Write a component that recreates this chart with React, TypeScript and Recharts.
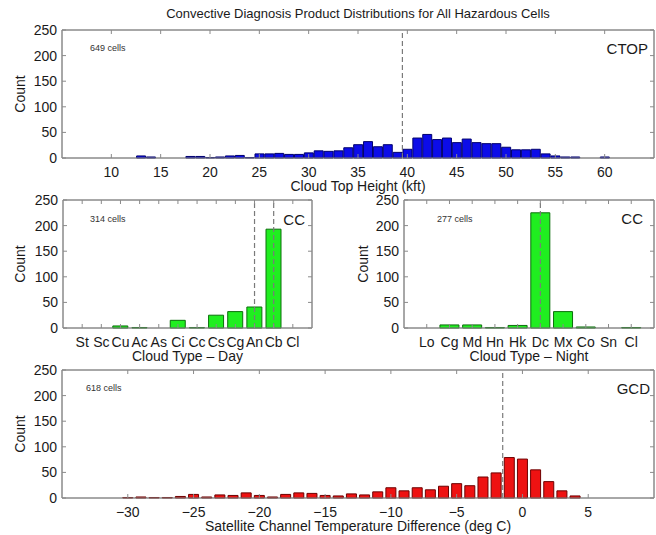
import { Bar, BarChart, CartesianGrid, Line, ReferenceLine, XAxis, YAxis } from "recharts";

// cloud top height bins (kft) and counts
const ctopBins = [13, 14, 18, 19, 20, 21, 22, 23, 24, 25, 26, 27, 28, 29, 30, 31, 32, 33, 34, 35, 36, 37, 38, 39, 40, 41, 42, 43, 44, 45, 46, 47, 48, 49, 50, 51, 52, 53, 54, 55, 56, 57, 60];
const ctopCounts = [4, 2, 3, 3, 1, 2, 4, 5, 1, 8, 8, 9, 7, 7, 10, 14, 13, 14, 20, 26, 32, 22, 26, 11, 17, 39, 46, 36, 39, 30, 37, 30, 28, 28, 21, 16, 16, 17, 8, 4, 2, 2, 2];
const ctopTicks = [10, 15, 20, 25, 30, 35, 40, 45, 50, 55, 60];

// cloud classification, day and night
const dayTypes = ["St", "Sc", "Cu", "Ac", "As", "Ci", "Cc", "Cs", "Cg", "An", "Cb", "Cl"];
const dayCounts = [0, 0, 4, 1, 0, 15, 1, 25, 32, 41, 193, 0];
const nightTypes = ["Lo", "Cg", "Md", "Hn", "Hk", "Dc", "Mx", "Co", "Sn", "Cl"];
const nightCounts = [0, 6, 6, 1, 5, 225, 32, 2, 0, 1];

// satellite channel temperature difference (deg C)
const gcdBins = [-30, -29, -28, -27, -26, -25, -24, -23, -22, -21, -20, -19, -18, -17, -16, -15, -14, -13, -12, -11, -10, -9, -8, -7, -6, -5, -4, -3, -2, -1, 0, 1, 2, 3, 4];
const gcdCounts = [1, 2, 1, 1, 3, 7, 2, 6, 5, 10, 5, 2, 7, 10, 9, 5, 4, 8, 6, 12, 20, 14, 20, 16, 23, 28, 24, 41, 49, 79, 76, 55, 32, 14, 4];
const gcdTicks = [-30, -25, -20, -15, -10, -5, 0, 5];

const countTicks = [0, 50, 100, 150, 200, 250];

const AXIS = "#8a8a8a";
const INK = "#1a1a1a";

type Row = { x: number | string; count: number };

type PanelProps = {
  data: Row[];
  left: number;
  top: number;
  width: number;
  yWidth: number;
  right: number;
  numeric: boolean;
  domain?: [number, number];
  ticks?: number[];
  pad?: number;
  xLabel: string;
  fill: string;
  stroke: string;
  gap: string;
  medians: (number | string)[];
  countOffset: number;
};

type Box = { offset: { top: number; left: number; width: number; height: number } };

const fmtNum = (v: number) => (v < 0 ? "\u2212" + Math.abs(v) : String(v));
const blank = () => "";
// frame edges of the plot area
const frameRows = ({ offset }: Box) => [offset.top, offset.top + offset.height];
const frameCols = ({ offset }: Box) => [offset.left, offset.left + offset.width];

function Panel(p: PanelProps) {
  const xCommon = {
    dataKey: "x",
    type: p.numeric ? ("number" as const) : ("category" as const),
    domain: p.domain,
    ticks: p.ticks,
    interval: 0 as const,
    stroke: AXIS,
    tickSize: -4,
    allowDataOverflow: true,
    padding: p.pad ? { left: p.pad, right: p.pad } : undefined,
  };
  return (
    <div style={{ position: "absolute", left: p.left, top: p.top }}>
      <BarChart
        width={p.width}
        height={195}
        data={p.data}
        margin={{ top: 28, right: p.right - 2, bottom: 0, left: 0 }}
        barCategoryGap={p.gap}
      >
        <CartesianGrid
          xAxisId="b"
          yAxisId="l"
          stroke={AXIS}
          horizontalCoordinatesGenerator={frameRows as any}
          verticalCoordinatesGenerator={frameCols as any}
        />
        <XAxis
          {...xCommon}
          xAxisId="b"
          height={37}
          tickMargin={13}
          tick={{ fill: INK, fontSize: 14 }}
          tickFormatter={p.numeric ? fmtNum : undefined}
          label={{ value: p.xLabel, position: "insideBottom", offset: 4, fill: INK, fontSize: 14 }}
        />
        <XAxis {...xCommon} xAxisId="t" orientation="top" height={2} tickFormatter={blank} tick={{ fontSize: 1 }} />
        <YAxis
          yAxisId="l"
          type="number"
          domain={[0, 250]}
          ticks={countTicks}
          width={p.yWidth}
          stroke={AXIS}
          tickSize={-4}
          tickMargin={9}
          tick={{ fill: INK, fontSize: 14 }}
          label={{
            value: "Count",
            angle: -90,
            position: "insideLeft",
            offset: p.countOffset,
            fill: INK,
            fontSize: 14,
            style: { textAnchor: "middle" },
          }}
        />
        <YAxis
          yAxisId="r"
          orientation="right"
          type="number"
          domain={[0, 250]}
          ticks={countTicks}
          width={2}
          stroke={AXIS}
          tickSize={-4}
          tickFormatter={blank}
          tick={{ fontSize: 1 }}
        />
        <Bar
          xAxisId="b"
          yAxisId="l"
          dataKey="count"
          fill={p.fill}
          stroke={p.stroke}
          strokeWidth={1}
          isAnimationActive={false}
        />
        {/* invisible series so the top and right frame axes get a scale */}
        <Line
          xAxisId="t"
          yAxisId="r"
          dataKey="count"
          stroke="none"
          dot={false}
          activeDot={false}
          legendType="none"
          isAnimationActive={false}
        />
        {p.medians.map((m) => (
          <ReferenceLine
            key={String(m)}
            xAxisId="b"
            yAxisId="l"
            x={m}
            stroke="#7a7a7a"
            strokeWidth={1.2}
            strokeDasharray="5 3"
          />
        ))}
      </BarChart>
    </div>
  );
}

const note = (text: string, left: number, top: number) => (
  <div style={{ position: "absolute", left, top, fontSize: 9, lineHeight: 1, color: "#333" }}>{text}</div>
);

const tag = (text: string, right: number, top: number) => (
  <div style={{ position: "absolute", right, top, fontSize: 15, lineHeight: 1, color: INK }}>{text}</div>
);

export default function App() {
  const ctop = ctopBins.map((x, i) => ({ x, count: ctopCounts[i] }));
  const day = dayTypes.map((x, i) => ({ x, count: dayCounts[i] }));
  const night = nightTypes.map((x, i) => ({ x, count: nightCounts[i] }));
  const gcd = gcdBins.map((x, i) => ({ x, count: gcdCounts[i] }));

  return (
    <div
      style={{
        position: "absolute",
        left: 0,
        top: 0,
        width: 656,
        height: 535,
        background: "#fff",
        fontFamily: "'Liberation Sans', Arial, Helvetica, sans-serif",
      }}
    >
      <Panel
        data={ctop}
        left={0}
        top={0}
        width={656}
        yWidth={62}
        right={2}
        numeric
        domain={[5, 65]}
        ticks={ctopTicks}
        xLabel="Cloud Top Height (kft)"
        fill="#0c0ce8"
        stroke="#00006e"
        gap="6%"
        medians={[39.5]}
        countOffset={20}
      />
      <Panel
        data={day}
        left={0}
        top={170}
        width={340}
        yWidth={63}
        right={28}
        numeric={false}
        pad={9.6}
        xLabel="Cloud Type – Day"
        fill="#20ee20"
        stroke="#0b6e0b"
        gap="10%"
        medians={["An", "Cb"]}
        countOffset={20}
      />
      <Panel
        data={night}
        left={340}
        top={170}
        width={316}
        yWidth={64}
        right={2}
        numeric={false}
        pad={11.4}
        xLabel="Cloud Type – Night"
        fill="#20ee20"
        stroke="#0b6e0b"
        gap="8%"
        medians={["Dc"]}
        countOffset={23}
      />
      <Panel
        data={gcd}
        left={0}
        top={340}
        width={656}
        yWidth={62}
        right={2}
        numeric
        domain={[-35, 10]}
        ticks={gcdTicks}
        xLabel="Satellite Channel Temperature Difference (deg C)"
        fill="#ee1212"
        stroke="#6e0000"
        gap="12%"
        medians={[-1.5]}
        countOffset={20}
      />

      <div
        style={{
          position: "absolute",
          left: 62,
          top: 7,
          width: 592,
          textAlign: "center",
          fontSize: 13,
          lineHeight: 1,
          color: INK,
        }}
      >
        Convective Diagnosis Product Distributions for All Hazardous Cells
      </div>

      {note("649 cells", 90, 44)}
      {note("314 cells", 90, 215)}
      {note("277 cells", 437, 215)}
      {note("618 cells", 86, 384)}

      {tag("CTOP", 8, 41)}
      {tag("CC", 351, 212)}
      {tag("CC", 13, 211)}
      {tag("GCD", 6, 381)}
    </div>
  );
}
